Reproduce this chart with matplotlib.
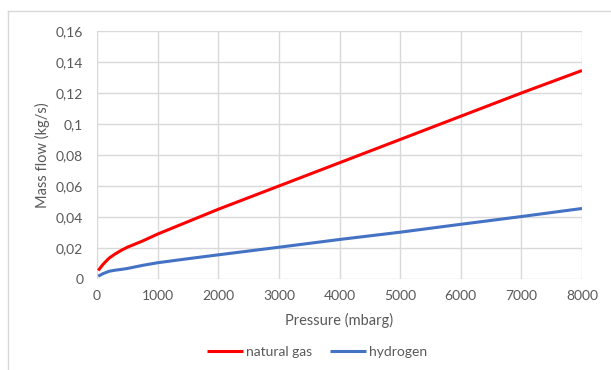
import matplotlib.pyplot as plt
from matplotlib.lines import Line2D
from matplotlib.ticker import FuncFormatter

plt.rcParams['font.family'] = ['Lato', 'DejaVu Sans']

# pressure in mbarg and mass flow in kg/s
pressure = [20, 100, 200, 300, 400, 500, 750, 1000, 1500, 2000, 3000, 4000, 5000, 6000, 7000, 8000]
natural_gas = [0.0055, 0.0095, 0.0135, 0.0162, 0.0185, 0.0205, 0.0245, 0.0290, 0.0370, 0.0450,
               0.0600, 0.0750, 0.0900, 0.1050, 0.1200, 0.1345]
hydrogen = [0.0018, 0.0035, 0.0050, 0.0057, 0.0062, 0.0068, 0.0088, 0.0105, 0.0131, 0.0156,
            0.0205, 0.0255, 0.0302, 0.0353, 0.0403, 0.0455]

text_color = "#595959"
grid_color = "#d9d9d9"

fig = plt.figure(figsize=(6.11, 3.70), dpi=100)
ax = fig.add_axes([0.1588, 0.2459, 0.7937, 0.6703])

ax.plot(pressure, natural_gas, color="#ff0000", linewidth=2.2, label="natural gas", solid_capstyle="butt")
ax.plot(pressure, hydrogen, color="#4472c4", linewidth=2.2, label="hydrogen", solid_capstyle="butt")

ax.set_xlim(0, 8000)
ax.set_ylim(0, 0.16)
ax.set_xticks(range(0, 8001, 1000))
ax.set_yticks([i * 0.02 for i in range(9)])

def comma(v, pos):
    s = f"{v:.2f}".rstrip("0").rstrip(".")
    return s.replace(".", ",")

ax.yaxis.set_major_formatter(FuncFormatter(comma))
ax.grid(True, color=grid_color, linewidth=1)
ax.set_axisbelow(True)
for side in ax.spines.values():
    side.set_visible(False)
ax.tick_params(length=0, colors=text_color, labelsize=10)
ax.tick_params(axis="y", pad=10)
ax.tick_params(axis="x", pad=8)

ax.set_xlabel("Pressure (mbarg)", color=text_color, fontsize=10.5, labelpad=8)
ax.set_ylabel("Mass flow (kg/s)", color=text_color, fontsize=10.5, labelpad=4)

fig.legend(loc="center", bbox_to_anchor=(0.519, 0.048), ncol=2, frameon=False,
           fontsize=10, labelcolor=text_color, handlelength=2.6, handletextpad=0.2,
           columnspacing=1.3)

# chart frame, top and left edges only
fig.add_artist(Line2D([0.013, 0.013], [0, 0.970], transform=fig.transFigure, color=grid_color, linewidth=1))
fig.add_artist(Line2D([0.013, 1], [0.970, 0.970], transform=fig.transFigure, color=grid_color, linewidth=1))

fig.savefig("out.png", dpi=100)
